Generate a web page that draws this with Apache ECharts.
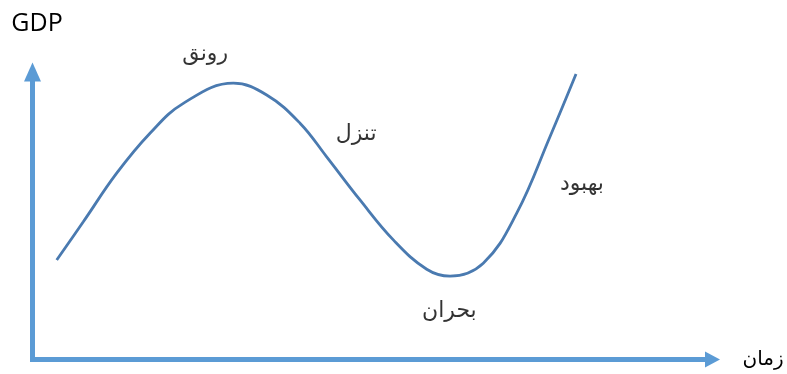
<!DOCTYPE html>
<html>
<head>
<meta charset="utf-8">
<script src="https://cdn.jsdelivr.net/npm/echarts@6/dist/echarts.min.js"></script>
<style>
  html, body { margin: 0; padding: 0; background: #fff; }
  #chart { width: 787px; height: 374px; }
</style>
</head>
<body>
<div id="chart"></div>
<script>
// business cycle curve (time 0-100, GDP 0-100)
const timeValues = [3.56, 7.47, 12.38, 17.28, 22.18, 29.53, 34.44, 39.34, 43.26, 48.16, 53.06, 57.97, 61.40, 66.29, 71.21, 76.10, 79.93];
const gdpValues = [34.6, 47.9, 64.8, 78.7, 89.1, 96.1, 92.0, 82.2, 70.5, 55.5, 41.6, 31.4, 29.0, 33.5, 50.9, 77.5, 99.3];

// phase labels
const phaseNames = ["رونق", "تنزل", "بحران", "بهبود"];
const phaseX = [25.4, 47.6, 61.3, 80.8];
const phaseY = [106.3, 78.4, 16.9, 61.0];

const axisColor = "#5B9BD5";
const curveColor = "#4A7AB0";

const chart = echarts.init(document.getElementById("chart"));

const option = {
  animation: false,
  grid: { left: 32.5, right: 74.5, top: 72, bottom: 14.5 },
  xAxis: {
    type: "value",
    min: 0,
    max: 100,
    name: "زمان",
    nameLocation: "end",
    nameGap: 30,
    nameTextStyle: { color: "#000", fontSize: 20, fontFamily: "DejaVu Sans" },
    axisLine: {
      lineStyle: { color: axisColor, width: 5, cap: "square" },
      symbol: ["none", "triangle"],
      symbolSize: [16, 15]
    },
    axisTick: { show: false },
    axisLabel: { show: false },
    splitLine: { show: false }
  },
  yAxis: {
    type: "value",
    min: 0,
    max: 100,
    name: "GDP",
    nameLocation: "end",
    nameGap: 36,
    nameTextStyle: { color: "#000", fontSize: 25, fontFamily: "Open Sans", padding: [0, 0, 0, 9] },
    axisLine: {
      lineStyle: { color: axisColor, width: 5, cap: "square" },
      symbol: ["none", "triangle"],
      symbolSize: [17, 19]
    },
    axisTick: { show: false },
    axisLabel: { show: false },
    splitLine: { show: false }
  },
  series: [
    {
      type: "line",
      data: timeValues.map((t, i) => [t, gdpValues[i]]),
      smooth: 0.4,
      showSymbol: false,
      lineStyle: { color: curveColor, width: 2.8 },
      silent: true
    },
    {
      type: "scatter",
      clip: false,
      symbolSize: 0,
      silent: true,
      data: phaseNames.map((n, i) => ({ name: n, value: [phaseX[i], phaseY[i]] })),
      label: {
        show: true,
        position: "inside",
        formatter: "{b}",
        color: "#000",
        fontSize: 22,
        fontFamily: "DejaVu Sans"
      }
    }
  ]
};

chart.setOption(option);
</script>
</body>
</html>
